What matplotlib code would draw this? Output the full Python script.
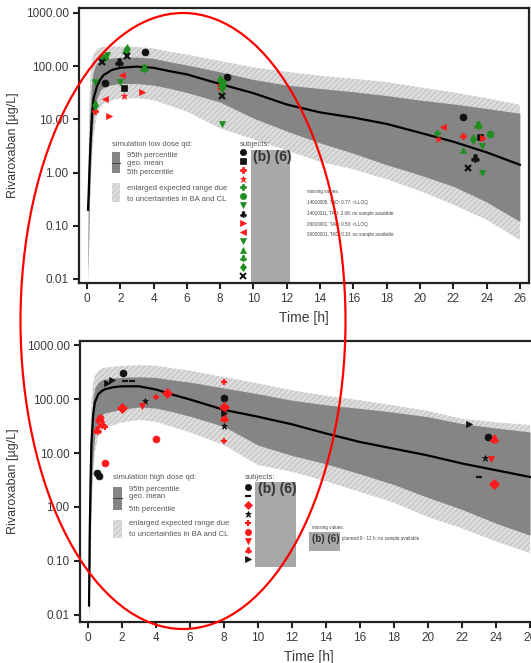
import numpy as np
import matplotlib.pyplot as plt
from matplotlib.patches import Rectangle, Ellipse

plt.rcParams['font.family'] = ['Liberation Sans', 'DejaVu Sans']
plt.rcParams['hatch.linewidth'] = 0.6

# simulation time grid [h]
t_sim = [0.06, 0.1, 0.15, 0.2, 0.3, 0.4, 0.6, 0.8, 1.0, 1.5, 2, 3, 4, 5, 6, 8,
         10, 12, 14, 16, 18, 20, 22, 24, 26]

# low dose qd
low_geo = [0.2, 0.4, 1.2, 3, 12, 25, 42, 56, 68, 85, 93, 98, 93, 80, 70, 46,
           31, 19, 13.5, 10.8, 8.2, 5.6, 3.8, 2.4, 1.4]
low_p95 = [0.03, 1, 8, 20, 55, 85, 115, 130, 137, 142, 146, 148, 140, 120, 105, 78,
           56, 44, 38, 33, 28, 23, 19.5, 16, 13]
low_p05 = [0.012, 0.05, 0.3, 1, 5, 12, 25, 35, 40, 45, 47, 47, 44, 38, 32, 21,
           10.5, 6, 3.6, 2.3, 1.4, 0.9, 0.55, 0.28, 0.12]
low_enl_hi = [0.05, 3, 25, 60, 130, 170, 205, 222, 230, 234, 234, 230, 215, 185, 165, 125,
              95, 78, 66, 58, 50, 40, 32, 25, 18.7]
low_enl_lo = [0.008, 0.02, 0.1, 0.4, 2, 5, 12, 17, 20, 23, 25, 25, 23, 18, 14, 6.8,
              4.2, 2.6, 1.6, 1.15, 0.75, 0.45, 0.25, 0.13, 0.054]

# high dose qd
high_geo = [0.015, 0.3, 3, 15, 50, 86, 122, 140, 152, 166, 172, 172, 150, 120, 98, 63,
            47, 34, 23, 16, 12, 9, 6.4, 4.8, 3.6]
high_p95 = [0.03, 1, 10, 40, 110, 160, 205, 225, 235, 245, 252, 258, 250, 225, 205, 160,
            125, 95, 78, 67, 57, 47, 35, 29, 24.6]
high_p05 = [0.01, 0.05, 0.5, 2, 10, 22, 40, 50, 55, 60, 65, 71, 68, 58, 48, 31,
            14, 9, 6.3, 4.1, 2.6, 1.5, 0.9, 0.5, 0.3]
high_enl_hi = [0.05, 3, 30, 90, 200, 270, 330, 365, 380, 397, 410, 425, 415, 370, 335, 255,
               195, 145, 115, 95, 76, 60, 43, 37, 33]
high_enl_lo = [0.007, 0.02, 0.15, 0.8, 4, 10, 20, 26, 30, 33, 37, 41, 38, 30, 24, 14,
               6, 4.5, 3.0, 1.9, 1.2, 0.65, 0.4, 0.23, 0.14]

# observed subjects, low dose
low_markers = ['o', 's', 'P', '*', 'P', 'o', 'v', '$♣$', '>', '<', 'v', '^', '$♣$', 'd', 'x']
low_colors = ['k', 'k', 'r', 'r', 'g', 'g', 'g', 'k', 'r', 'r', 'g', 'g', 'g', 'g', 'k']
low_times = [[1.08, 3.5, 8.4, 22.6], [2.2, 23.6], [0.48, 8.0, 22.6], [2.2, 8.0, 21.1],
             [1.1, 8.0, 21.0], [0.9, 8.1, 24.2], [0.48, 2.0, 8.1, 23.7], [1.93, 23.3],
             [1.3, 3.3, 23.8], [1.08, 2.08, 8.0, 21.4], [1.2, 8.1, 23.7], [2.3, 8.0, 22.6],
             [3.4, 8.1, 23.5], [0.48, 2.4, 23.2], [0.88, 2.38, 8.1, 22.9]]
low_conc = [[48, 187, 63, 11], [39, 4.7], [14.5, 45, 4.9], [27, 40, 4.3],
            [140, 55, 5.5], [150, 50, 5.2], [51, 51, 8.1, 3.1], [122, 1.87],
            [11.5, 32, 4.5], [24, 68, 39, 7.3], [160, 35, 0.98], [200, 60, 2.6],
            [92, 45, 7.8], [18.7, 210, 4.3], [122, 155, 27, 1.23]]

# observed subjects, high dose
high_markers = ['o', '_', 'D', '*', '+', 'o', 'v', '$♣$', '>']
high_colors = ['k', 'k', 'r', 'k', 'r', 'r', 'r', 'r', 'k']
high_times = [[0.5, 0.65, 2.08, 8.0, 23.5], [2.2, 2.6, 23.0], [1.98, 4.63, 8.0, 23.9],
              [3.35, 8.0, 23.35], [1.0, 4.0, 8.0, 8.0], [0.7, 1.0, 4.0],
              [0.6, 3.16, 8.0, 23.7], [0.5, 0.8, 8.0, 23.9], [1.1, 1.39, 8.0, 22.4]]
high_conc = [[4.3, 3.7, 307, 104, 20], [218, 218, 3.6], [68, 127, 72, 2.7],
             [93, 32, 8], [30, 110, 205, 16.5], [45, 6.5, 18],
             [38, 75, 67, 7.6], [27, 35, 45, 18], [198, 225, 55, 35]]

low_missing = ['missing values:',
               '14010008, TAD: 0.77: <LLOQ',
               '14010011, TAD: 2.68: no sample available',
               '26010001, TAD: 0.50: <LLOQ',
               '26020001, TAD: 0.10: no sample available']

colmap = {'k': '#111111', 'r': '#ff1a1a', 'g': '#1f8f1f'}
dark = '#858585'
light = '#dcdcdc'
txtc = '#555555'

fig = plt.figure(figsize=(5.31, 6.63), dpi=100)
ax1 = fig.add_axes([0.1488, 0.5732, 0.8475, 0.4148])
ax2 = fig.add_axes([0.1507, 0.0618, 0.8625, 0.4238])


def draw_panel(ax, geo, p95, p05, ehi, elo, markers, colors, times, conc, xlim, ylim):
    ax.fill_between(t_sim, elo, ehi, facecolor=light, edgecolor='#bcbcbc', hatch='//////', lw=0)
    ax.fill_between(t_sim, p05, p95, color=dark, lw=0)
    ax.plot(t_sim, geo, color='black', lw=1.6)
    for m, c, t, v in zip(markers, colors, times, conc):
        ms = 6 if m.startswith('$') else 5
        ax.plot(t, v, ls='none', marker=m, color=colmap[c], ms=ms, mew=1.6 if m in 'x+_' else 0.5)
    ax.set_yscale('log')
    ax.set_xlim(*xlim)
    ax.set_ylim(*ylim)
    ax.set_xticks(np.arange(0, 27, 2))
    ax.set_yticks([0.01, 0.1, 1, 10, 100, 1000])
    ax.set_yticklabels(['0.01', '0.10', '1.00', '10.00', '100.00', '1000.00'])
    ax.minorticks_off()
    ax.tick_params(labelsize=8.5, labelcolor='#3a3a3a', width=1.5, length=4, color='#222222')
    for s in ax.spines.values():
        s.set_linewidth(1.6)
        s.set_color('#222222')
    ax.set_xlabel('Time [h]', fontsize=10, color='#3a3a3a')
    ax.set_ylabel('Rivaroxaban [µg/L]', fontsize=9, color='#3a3a3a')
    ax.yaxis.set_label_coords(-0.133, 0.5)


draw_panel(ax1, low_geo, low_p95, low_p05, low_enl_hi, low_enl_lo,
           low_markers, low_colors, low_times, low_conc, (-0.48, 26.55), (0.0084, 1240))
draw_panel(ax2, high_geo, high_p95, high_p05, high_enl_hi, high_enl_lo,
           high_markers, high_colors, high_times, high_conc, (-0.47, 26.47), (0.0074, 1186))


def legend_block(ax, title, y_title, box_dark, y_texts, box_light, x0):
    tr = ax.transAxes
    ax.text(x0, y_title, title, transform=tr, fontsize=5.5, color=txtc, va='center')
    ax.add_patch(Rectangle((x0, box_dark[0]), 0.019, box_dark[1], transform=tr, color=dark, lw=0))
    ax.plot([x0, x0 + 0.019], [box_dark[0] + box_dark[1] / 2] * 2, transform=tr, color='#444444', lw=0.8)
    ax.add_patch(Rectangle((x0, box_light[0]), 0.019, box_light[1], transform=tr,
                           facecolor=light, edgecolor='#c4c4c4', hatch='//////', lw=0))
    labels = ['95th percentile', 'geo. mean', '5th percentile',
              'enlarged expected range due', 'to uncertainties in BA and CL']
    for lab, y in zip(labels, y_texts):
        ax.text(x0 + 0.034, y, lab, transform=tr, fontsize=5.5, color=txtc, va='center')


legend_block(ax1, 'simulation low dose qd:', 0.502, (0.40, 0.076),
             [0.465, 0.436, 0.40, 0.345, 0.305], (0.295, 0.069), 0.073)
legend_block(ax2, 'simulation high dose qd:', 0.513, (0.399, 0.082),
             [0.47, 0.445, 0.402, 0.349, 0.31], (0.299, 0.064), 0.072)

# subjects columns
ax1.text(0.358, 0.505, 'subjects:', transform=ax1.transAxes, fontsize=5.5, color=txtc, va='center')
ys = np.linspace(0.476, 0.025, len(low_markers))
for m, c, y in zip(low_markers, low_colors, ys):
    ax1.plot(0.364, y, marker=m, color=colmap[c], ms=4.5, mew=1.4 if m in 'x+_' else 0.5,
             transform=ax1.transAxes, clip_on=False)
ax1.add_patch(Rectangle((0.382, 0.004), 0.087, 0.48, transform=ax1.transAxes, color='#a8a8a8', lw=0))
ax1.text(0.386, 0.458, '(b) (6)', transform=ax1.transAxes, fontsize=10, fontweight='bold',
         color='#333333', va='center')
for i, line in enumerate(low_missing):
    ax1.text(0.507, 0.331 - i * 0.039, line, transform=ax1.transAxes, fontsize=3.3,
             color='#444444', va='center')

ax2.text(0.36, 0.516, 'subjects:', transform=ax2.transAxes, fontsize=5.5, color=txtc, va='center')
ys = np.linspace(0.48, 0.224, len(high_markers))
for m, c, y in zip(high_markers, high_colors, ys):
    ax2.plot(0.367, y, marker=m, color=colmap[c], ms=4.5, mew=1.6 if m in 'x+_' else 0.5,
             transform=ax2.transAxes, clip_on=False)
ax2.add_patch(Rectangle((0.382, 0.196), 0.0895, 0.302, transform=ax2.transAxes, color='#a8a8a8', lw=0))
ax2.text(0.388, 0.473, '(b) (6)', transform=ax2.transAxes, fontsize=10, fontweight='bold',
         color='#333333', va='center')
ax2.text(0.507, 0.338, 'missing values:', transform=ax2.transAxes, fontsize=3.3, color='#444444', va='center')
ax2.text(0.572, 0.296, 'planned 8 - 12 h: no sample available', transform=ax2.transAxes,
         fontsize=3.3, color='#444444', va='center')
ax2.add_patch(Rectangle((0.5, 0.253), 0.068, 0.068, transform=ax2.transAxes, color='#a8a8a8', lw=0))
ax2.text(0.506, 0.297, '(b) (6)', transform=ax2.transAxes, fontsize=7, fontweight='bold',
         color='#333333', va='center')

# red annotation ellipse
fig.add_artist(Ellipse((183 / 531, 1 - 321 / 663), 325 / 531, 616 / 663,
                       transform=fig.transFigure, fill=False, ec='red', lw=1.6))

fig.savefig('out.png', dpi=100)
